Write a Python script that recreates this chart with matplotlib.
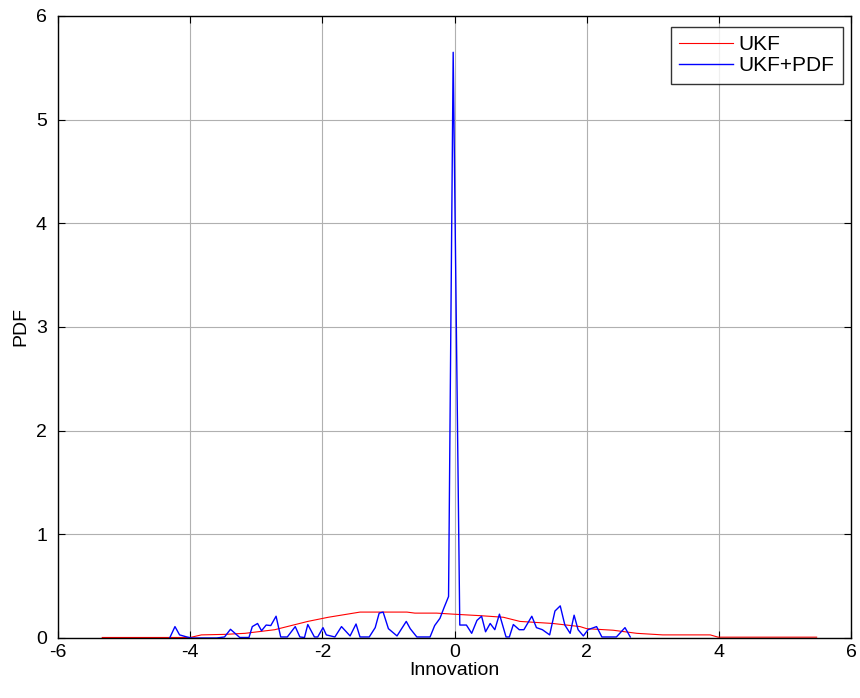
import matplotlib
matplotlib.use("Agg")
import matplotlib.pyplot as plt

plt.rcParams['font.family'] = ['Liberation Sans', 'DejaVu Sans']

# UKF (red) curve
ukf_x = [-5.33, -4.5, -4.0, -3.83, -3.48, -3.17, -2.72, -2.22, -1.91, -1.43, -1.2, -0.72,
         -0.6, -0.27, -0.02, 0.4, 0.74, 0.99, 1.49, 1.9, 2.0, 2.4, 2.76, 3.15, 3.87, 3.99, 4.5, 5.48]
ukf_y = [0.005, 0.005, 0.005, 0.03, 0.035, 0.045, 0.08, 0.16, 0.2, 0.25, 0.25, 0.25,
         0.24, 0.24, 0.23, 0.215, 0.2, 0.16, 0.14, 0.11, 0.09, 0.075, 0.045, 0.03, 0.03, 0.008, 0.008, 0.008]

# UKF+PDF (blue) curve
pdf_x = [-4.31, -4.23, -4.16, -4.05, -3.98, -3.6, -3.48, -3.39, -3.25, -3.11, -3.06, -2.98,
         -2.92, -2.85, -2.78, -2.70, -2.63, -2.53, -2.41, -2.34, -2.27, -2.22, -2.12, -2.07,
         -1.99, -1.94, -1.81, -1.71, -1.58, -1.49, -1.43, -1.29, -1.20, -1.14, -1.08, -1.00,
         -0.87, -0.73, -0.67, -0.57, -0.37, -0.30, -0.22, -0.16, -0.09, -0.02, 0.08, 0.18,
         0.26, 0.34, 0.41, 0.47, 0.54, 0.61, 0.68, 0.78, 0.83, 0.89, 0.98, 1.05, 1.17,
         1.24, 1.33, 1.44, 1.52, 1.60, 1.67, 1.75, 1.81, 1.87, 1.95, 2.02, 2.15, 2.23,
         2.45, 2.58, 2.66]
pdf_y = [0.0, 0.11, 0.03, 0.01, 0.0, 0.0, 0.01, 0.084, 0.005, 0.005, 0.11, 0.14,
         0.07, 0.125, 0.12, 0.21, 0.01, 0.01, 0.11, 0.01, 0.005, 0.13, 0.01, 0.01,
         0.1, 0.03, 0.01, 0.11, 0.02, 0.135, 0.01, 0.01, 0.10, 0.24, 0.25, 0.09,
         0.02, 0.16, 0.09, 0.01, 0.01, 0.12, 0.19, 0.29, 0.40, 5.65, 0.125, 0.125,
         0.045, 0.17, 0.21, 0.06, 0.14, 0.08, 0.23, 0.01, 0.01, 0.13, 0.08, 0.08, 0.21,
         0.10, 0.08, 0.03, 0.26, 0.31, 0.125, 0.045, 0.22, 0.08, 0.02, 0.08, 0.11, 0.01,
         0.01, 0.10, 0.01]

xticks = [-6, -4, -2, 0, 2, 4, 6]
yticks = [0, 1, 2, 3, 4, 5, 6]

fig = plt.figure(figsize=(8.6, 6.98), dpi=100)
ax = fig.add_axes([58/860, 1-638/698, (851-58)/860, (638-16)/698])

ax.plot(ukf_x, ukf_y, color='#ff0000', lw=0.8, label='UKF')
ax.plot(pdf_x, pdf_y, color='#0000ff', lw=1.0, label='UKF+PDF')

ax.set_xlim(-6, 6)
ax.set_ylim(0, 6)
ax.set_xticks(xticks)
ax.set_yticks(yticks)
ax.set_xticklabels([str(t) for t in xticks])
ax.set_yticklabels([str(t) for t in yticks])
ax.grid(True, color='#b0b0b0', linestyle='-', lw=0.8)
ax.set_axisbelow(True)
ax.tick_params(direction='in', top=True, right=True, labelsize=14, length=5, color='black')
ax.tick_params(axis='x', pad=4)
ax.tick_params(axis='y', pad=8)
for s in ax.spines.values():
    s.set_linewidth(1.0)
    s.set_color('black')

ax.set_xlabel('Innovation', fontsize=14, labelpad=1)
ax.set_ylabel('PDF', fontsize=14, labelpad=5)

leg = ax.legend(loc='upper right', bbox_to_anchor=(0.9899, 0.9823), fontsize=15,
                frameon=True, fancybox=False, edgecolor='black', borderpad=0.4,
                handlelength=2.55, handletextpad=0.3, labelspacing=0.1,
                borderaxespad=0)
leg.get_frame().set_linewidth(1.0)

fig.savefig('out.png', dpi=100)
